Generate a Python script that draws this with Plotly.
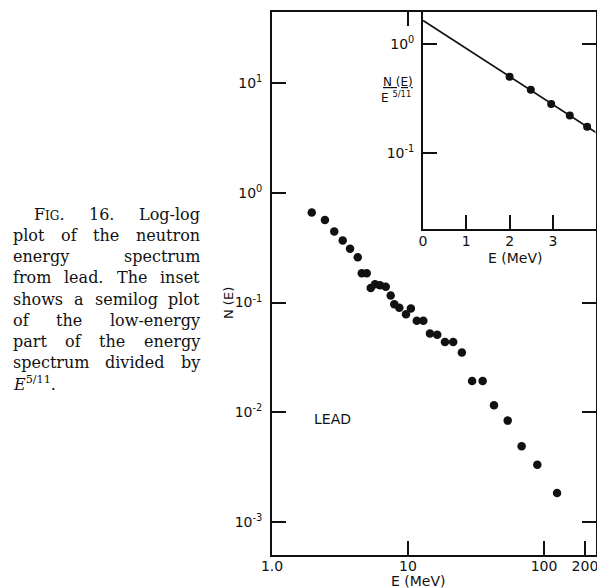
import plotly.graph_objects as go

# ---------------- data ----------------
E_main = [1.96, 2.45, 2.87, 3.31, 3.75, 4.27, 4.57, 4.97, 5.32, 5.72, 6.22, 6.86,
          7.46, 7.93, 8.63, 9.67, 10.5, 11.6, 12.97, 14.5, 16.4, 18.7, 21.5, 24.9,
          29.6, 35.4, 42.9, 54.1, 68.5, 89.3, 124.7]
N_main = [0.661, 0.564, 0.444, 0.367, 0.309, 0.259, 0.185, 0.185, 0.136, 0.147,
          0.144, 0.139, 0.116, 0.0967, 0.0895, 0.0784, 0.0881, 0.0681, 0.0681,
          0.0522, 0.0508, 0.0438, 0.0438, 0.035, 0.0193, 0.0193, 0.0116, 0.0084,
          0.0049, 0.00333, 0.00184]

E_inset = [2.0, 2.49, 2.96, 3.39, 3.79]
R_inset = [0.498, 0.378, 0.28, 0.219, 0.173]
E_fit = [0.0, 4.02]
R_fit = [1.63, 0.151]

main_xtick_vals = [1, 10, 100, 200]
main_xtick_text = ["1.0", "10", "100", "200"]
main_ytick_vals = [10, 1, 0.1, 0.01, 0.001]
main_ytick_text = ["10<sup>1</sup>", "10<sup>0</sup>", "10<sup>-1</sup>",
                   "10<sup>-2</sup>", "10<sup>-3</sup>"]
inset_xtick_vals = [0, 1, 2, 3]
inset_xtick_text = ["0", "1", "2", "3"]
inset_ytick_vals = [1, 0.1]
inset_ytick_text = ["10<sup>0</sup>", "10<sup>-1</sup>"]

caption_lines = [
    ["F<span style='font-size:12px'>IG</span>.", "16.", "Log-log"],
    ["plot", "of", "the", "neutron"],
    ["energy", "spectrum"],
    ["from", "lead.", "The", "inset"],
    ["shows", "a", "semilog", "plot"],
    ["of", "the", "low-energy"],
    ["part", "of", "the", "energy"],
    ["spectrum", "divided", "by"],
]

# ---------------- geometry ----------------
W, H = 597, 588
def px(x):
    return x / W
def py(y):
    return 1 - y / H

FONT = "DejaVu Sans"
BLACK = "#111111"
LW = 1.8

fig = go.Figure()

fig.add_trace(go.Scatter(x=E_main, y=N_main, mode="markers",
                         marker=dict(size=8.5, color=BLACK),
                         xaxis="x", yaxis="y", showlegend=False))
fig.add_trace(go.Scatter(x=E_fit, y=R_fit, mode="lines",
                         line=dict(color=BLACK, width=1.8),
                         xaxis="x2", yaxis="y2", showlegend=False))
fig.add_trace(go.Scatter(x=E_inset, y=R_inset, mode="markers",
                         marker=dict(size=8, color=BLACK),
                         xaxis="x2", yaxis="y2", showlegend=False))
# empty traces so that the mirror (overlay) axes get drawn
fig.add_trace(go.Scatter(x=[None], y=[None], xaxis="x3", yaxis="y3",
                         showlegend=False, hoverinfo="skip"))
fig.add_trace(go.Scatter(x=[None], y=[None], xaxis="x2", yaxis="y4",
                         showlegend=False, hoverinfo="skip"))

tickfont = dict(family=FONT, size=14, color=BLACK)
common = dict(showgrid=False, zeroline=False, showline=True, linecolor=BLACK,
              linewidth=LW, ticks="inside", ticklen=14, tickwidth=LW,
              tickcolor=BLACK, tickfont=tickfont, automargin=False)

RIGHT = 595.5
main_xr = [0, (RIGHT - 272) / 136]
main_yr = [-3.30, 1.647]
main_xd = [px(272), px(RIGHT)]
main_yd = [py(555), py(12)]
ins_xd = [px(423), px(RIGHT)]
ins_yd = [py(229), py(12)]
ins_xr = [0, (RIGHT - 423) / 43.3]

fig.update_layout(
    width=W, height=H, margin=dict(l=0, r=0, t=0, b=0, autoexpand=False),
    paper_bgcolor="white", plot_bgcolor="white",
    xaxis=dict(type="log", range=main_xr, domain=main_xd, anchor="y",
               tickmode="array", tickvals=main_xtick_vals,
               ticktext=main_xtick_text, ticklabeloverflow="allow",
               ticklabelstandoff=-3, **common),
    yaxis=dict(type="log", range=main_yr, domain=main_yd, anchor="x",
               tickmode="array", tickvals=main_ytick_vals,
               ticktext=main_ytick_text, ticklabelstandoff=5, **common),
    xaxis3=dict(type="log", range=main_xr, domain=main_xd, anchor="y3",
                overlaying="x", side="top", tickmode="array", tickvals=[10],
                showticklabels=False, **common),
    yaxis3=dict(type="log", range=main_yr, domain=main_yd, anchor="x3",
                overlaying="y", side="right", tickmode="array",
                tickvals=[0.1, 0.01, 0.001], showticklabels=False, **common),
    xaxis2=dict(range=ins_xr, domain=ins_xd, anchor="y2",
                tickmode="array", tickvals=inset_xtick_vals,
                ticktext=inset_xtick_text, ticklabelstandoff=-2, **common),
    yaxis2=dict(type="log", range=[-1.70, 0.29], domain=ins_yd, anchor="x2",
                tickmode="array", tickvals=inset_ytick_vals,
                ticktext=inset_ytick_text, ticklabelstandoff=4, **common),
    yaxis4=dict(type="log", range=[-1.70, 0.29], domain=ins_yd, anchor="x2",
                overlaying="y2", side="right", tickmode="array", tickvals=[1],
                showticklabels=False, **common),
)

def ann(text, x, y, size=13, family=FONT, xanchor="center", yanchor="middle",
        angle=0):
    fig.add_annotation(text=text, x=px(x), y=py(y), xref="paper", yref="paper",
                       showarrow=False, xanchor=xanchor, yanchor=yanchor,
                       textangle=angle, borderpad=0, borderwidth=0,
                       font=dict(family=family, size=size, color=BLACK))

ann("E (MeV)", 418, 581, size=14)
ann("N (E)", 228, 303, size=13, angle=-90)
ann("LEAD", 332, 419, size=14)
ann("E (MeV)", 515, 258, size=14)
ann("<u>N (E)</u>", 398, 82, size=12)
ann("E <sup>5/11</sup>", 396, 97, size=12)

# ---------------- caption (justified) ----------------
SERIF = "DejaVu Serif"
CS = 16
widths = {c: 640 for c in "bdgpq"}
widths.update({"a": 596, "c": 560, "e": 592, "f": 370, "h": 644, "i": 320,
               "j": 310, "k": 606, "l": 320, "m": 948, "n": 644, "o": 602,
               "r": 478, "s": 513, "t": 402, "u": 644, "v": 565, "w": 856,
               "x": 564, "y": 565, "z": 527, " ": 318, ".": 318, "-": 338,
               "F": 667, "I": 373, "G": 775, "L": 653, "T": 668, "E": 683})
for d in "0123456789":
    widths[d] = 636

def tw(word):
    if word.startswith("F<span"):
        return (667 * CS + (373 + 775) * 12 + 318 * CS) / 1000
    return sum(widths.get(c, 600) for c in word) * CS / 1000

left, right = 13, 200
y0, dy = 214, 21.25
for i, words in enumerate(caption_lines):
    l = 34 if i == 0 else left
    ws = [tw(w) for w in words]
    gap = (right - l - sum(ws)) / (len(words) - 1)
    x = l
    yy = y0 + i * dy
    for j, w in enumerate(words):
        if j == len(words) - 1:
            ann(w, right, yy, size=CS, family=SERIF, xanchor="right")
        else:
            ann(w, x, yy, size=CS, family=SERIF, xanchor="left")
        x += ws[j] + gap
ann("<i>E</i><sup>5/11</sup>.", left, y0 + 8 * dy, size=CS, family=SERIF,
    xanchor="left")

fig.write_html("out.html")
